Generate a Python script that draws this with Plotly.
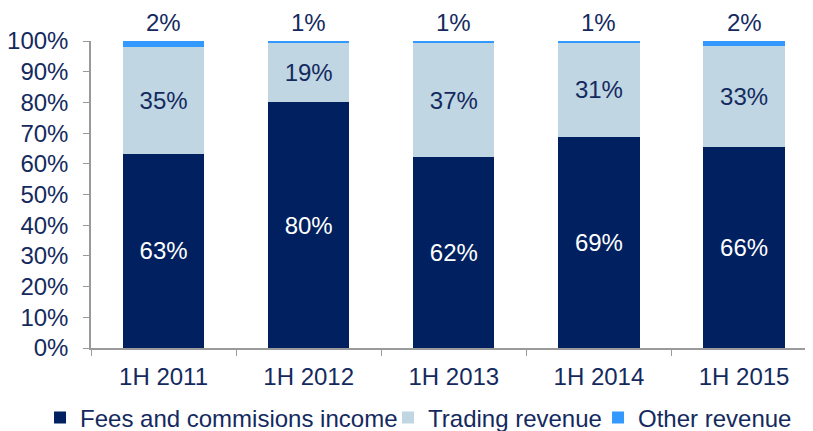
import plotly.graph_objects as go

categories = ["1H 2011", "1H 2012", "1H 2013", "1H 2014", "1H 2015"]
fees = [63.2, 80.0, 62.2, 68.7, 65.6]
trading = [35.0, 19.2, 37.0, 30.7, 32.8]
other = [1.8, 0.8, 0.8, 0.6, 1.6]
y_ticks = [0, 10, 20, 30, 40, 50, 60, 70, 80, 90, 100]

NAVY = "#002060"
LIGHT = "#C0D6E3"
BRIGHT = "#3399FF"
TXT = "#142A5E"
FONT = "Liberation Sans, Arial, sans-serif"
FS = 24

fig = go.Figure()
fig.add_trace(go.Bar(
    x=categories, y=fees, name="Fees and commisions income",
    marker=dict(color=NAVY, line=dict(width=0)),
    text=[f"{v:.0f}%" for v in fees], textposition="inside",
    insidetextanchor="middle", textangle=0,
    textfont=dict(color="white", size=FS, family=FONT),
    legendwidth=303,
))
fig.add_trace(go.Bar(
    x=categories, y=trading, name="Trading revenue",
    marker=dict(color=LIGHT, line=dict(width=0)),
    text=[f"{v:.0f}%" for v in trading], textposition="inside",
    insidetextanchor="middle", textangle=0,
    textfont=dict(color=TXT, size=FS, family=FONT),
    legendwidth=165,
))
fig.add_trace(go.Bar(
    x=categories, y=other, name="Other revenue",
    marker=dict(color=BRIGHT, line=dict(width=0)),
    textposition="none",
    legendwidth=162,
))

for c, a, b, o in zip(categories, fees, trading, other):
    fig.add_annotation(
        x=c, y=a + b + o, text=f"{o:.0f}%", showarrow=False,
        yanchor="bottom", yshift=3,
        font=dict(color=TXT, size=FS, family=FONT),
    )

fig.update_layout(
    barmode="stack",
    bargap=0.44,
    width=805, height=423,
    margin=dict(l=83, r=0, t=33, b=83, autoexpand=False),
    plot_bgcolor="white", paper_bgcolor="white",
    font=dict(family=FONT, color=TXT, size=FS),
    showlegend=True,
    legend=dict(
        orientation="h", x=-0.0706, xanchor="left",
        y=-0.228, yanchor="middle",
        font=dict(size=FS, color=TXT, family=FONT),
        itemwidth=30, traceorder="normal",
        entrywidthmode="pixels",
        bgcolor="rgba(0,0,0,0)",
    ),
    xaxis=dict(
        type="category", range=[-0.5, 4.475],
        showline=True, linecolor="#9A9A9A", linewidth=1.5,
        ticks="outside", tickson="boundaries", ticklen=6, tickcolor="#9A9A9A",
        ticklabelstandoff=6,
        tickfont=dict(size=FS, color=TXT, family=FONT),
        showgrid=False, zeroline=False,
    ),
    yaxis=dict(
        range=[0, 100], tickvals=y_ticks,
        ticktext=[f"{v}%" for v in y_ticks],
        showline=True, linecolor="#9A9A9A", linewidth=1.5,
        ticks="outside", ticklen=6, tickcolor="#9A9A9A",
        ticklabelstandoff=10,
        tickfont=dict(size=FS, color=TXT, family=FONT),
        showgrid=False, zeroline=False,
    ),
)

fig.write_html("out.html")
